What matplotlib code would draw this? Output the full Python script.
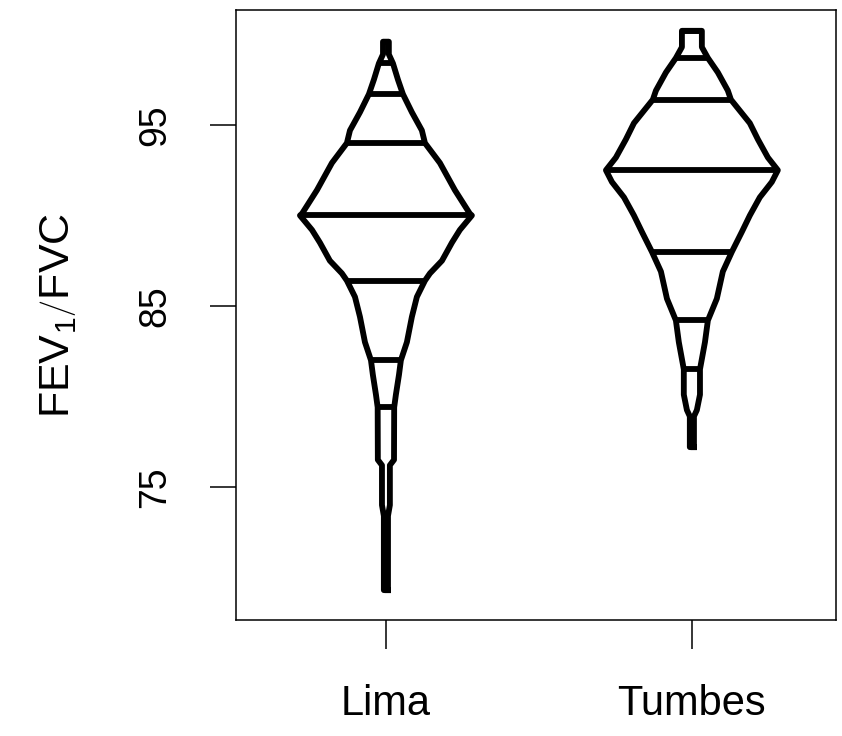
import numpy as np
import matplotlib
matplotlib.use("Agg")
import matplotlib.pyplot as plt

plt.rcParams['font.family'] = ['Liberation Sans', 'DejaVu Sans']
plt.rcParams['mathtext.fontset'] = 'custom'
plt.rcParams['mathtext.rm'] = 'Liberation Sans'
plt.rcParams['mathtext.it'] = 'Liberation Sans'

# groups
groups = ['Lima', 'Tumbes']

# outline of box-percentile plot: value and its percentile
lima_vals = [69.3, 73.4, 74.0, 76.2, 76.5, 79.4, 80.1, 81.2, 82.0, 83.0,
             84.4, 85.5, 86.4, 86.8, 87.5, 88.5, 89.2, 90.0, 90.1, 91.4,
             92.9, 94.0, 94.7, 95.7, 96.7, 97.5, 98.4, 98.9, 99.6]
lima_pct = [0.012, 0.012, 0.023, 0.023, 0.047, 0.048, 0.058, 0.076, 0.087, 0.122,
            0.151, 0.18, 0.227, 0.256, 0.326, 0.384, 0.43, 0.5, 0.512, 0.599,
            0.686, 0.773, 0.791, 0.849, 0.901, 0.93, 0.959, 0.983, 0.983]

tumbes_vals = [77.2, 78.9, 79.25, 80.1, 81.5, 83.0, 84.2, 85.4, 86.9, 88.0,
               89.1, 90.0, 91.0, 91.85, 92.5, 93.2, 94.2, 95.1, 96.4, 96.9,
               97.9, 98.7, 99.3, 100.2]
tumbes_pct = [0.012, 0.012, 0.029, 0.047, 0.047, 0.076, 0.093, 0.145, 0.18, 0.233,
              0.291, 0.337, 0.395, 0.465, 0.5, 0.558, 0.616, 0.663, 0.773, 0.791,
              0.849, 0.907, 0.942, 0.942]

# quantiles where horizontal lines are drawn
line_probs = [0.05, 0.10, 0.25, 0.50, 0.75, 0.90, 0.95]
lima_q = [79.4, 82.0, 86.4, 90.0, 94.0, 96.7, 98.4]
tumbes_q = [81.5, 84.2, 88.0, 92.5, 96.4, 98.7, 100.2]

fig = plt.figure(figsize=(8.42, 7.36), dpi=100)
ax = fig.add_axes([236/842, 1-620/736, 600/842, 610/736])

W = 0.562  # half width for percentile 0.5 -> 0.281
lw = 4.2

data = [(lima_vals, lima_pct, lima_q), (tumbes_vals, tumbes_pct, tumbes_q)]
for i, (vals, pct, qs) in enumerate(data):
    c = i + 1
    vals = np.array(vals)
    pct = np.array(pct)
    half = np.minimum(pct, 1 - pct) * W
    xs = np.concatenate([c + half, (c - half)[::-1], [c + half[0]]])
    ys = np.concatenate([vals, vals[::-1], [vals[0]]])
    ax.plot(xs, ys, color='black', lw=lw, solid_joinstyle='round')
    for q in qs:
        h = np.interp(q, vals, half)
        ax.plot([c - h, c + h], [q, q], color='black', lw=lw, solid_capstyle='butt')

ax.set_xlim(0.51, 2.471)
ax.set_ylim(67.65, 101.35)
ax.set_xticks([1, 2])
ax.set_xticklabels(groups, fontsize=30)
ax.set_yticks([75, 85, 95])
ax.set_yticklabels(['75', '85', '95'], fontsize=27, rotation=90, va='center')
ax.tick_params(axis='x', length=21, width=1.1, pad=25)
ax.tick_params(axis='y', length=19, width=1.1, pad=26)
for s in ax.spines.values():
    s.set_linewidth(1.1)

fig.text(58/842, 1-315/736, r'$\left.\mathrm{FEV}_1\right/\mathrm{FVC}$', rotation=90,
         ha='center', va='center', fontsize=31)

fig.savefig('out.png', dpi=100)
